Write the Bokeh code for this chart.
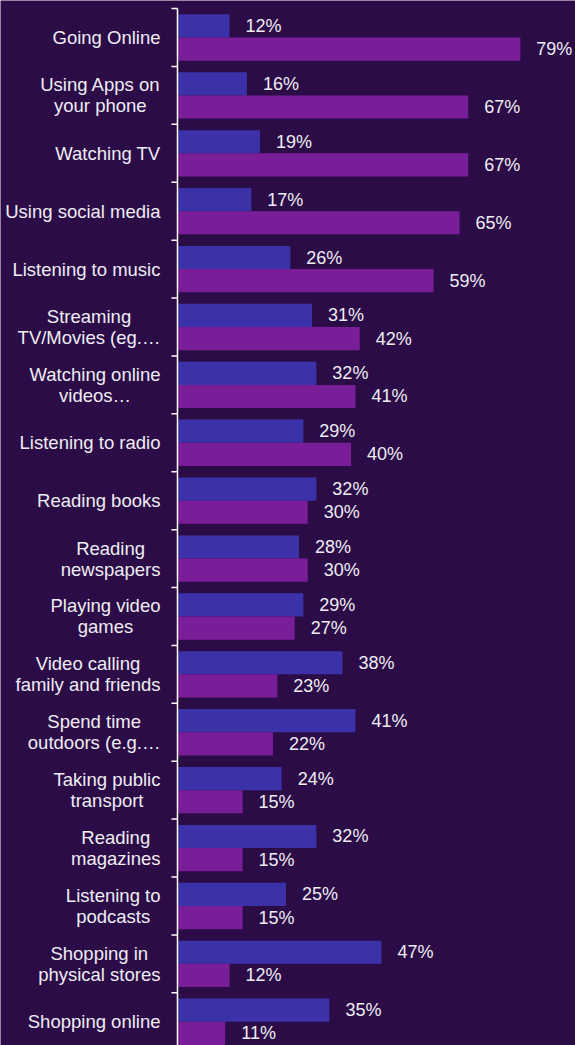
import math
from bokeh.plotting import figure
from bokeh.models import ColumnDataSource, Range1d
from bokeh.transform import dodge
from bokeh.core.properties import value
from bokeh.embed import file_html
from bokeh.resources import INLINE

categories = ["Going Online", "Using Apps on\nyour phone", "Watching TV", "Using social media",
              "Listening to music", "Streaming\nTV/Movies (eg.…", "Watching online\nvideos…",
              "Listening to radio", "Reading books", "Reading\nnewspapers", "Playing video\ngames",
              "Video calling\nfamily and friends", "Spend time\noutdoors (e.g.…",
              "Taking public\ntransport", "Reading\nmagazines", "Listening to\npodcasts",
              "Shopping in\nphysical stores", "Shopping online"]
series_a = [12, 16, 19, 17, 26, 31, 32, 29, 32, 28, 29, 38, 41, 24, 32, 25, 47, 35]
series_b = [79, 67, 67, 65, 59, 42, 41, 40, 30, 30, 27, 23, 22, 15, 15, 15, 12, 11]

BG = "#2c0c47"
BLUE = "#3b32a9"
PURPLE = "#7a1d98"
TXT = "#eeedf3"
FONT = "Liberation Sans"

n = len(categories)
idx = list(range(n))
src = ColumnDataSource(dict(
    idx=idx, cat=categories, a=series_a, b=series_b,
    alab=[f"{v}%" for v in series_a], blab=[f"{v}%" for v in series_b]))

p = figure(width=575, height=1045, output_backend="svg", toolbar_location=None,
           x_axis_type=None, y_axis_type=None,
           x_range=Range1d(-40.78, 91.71), y_range=Range1d(17.41, -0.639),
           min_border_left=0, min_border_right=0, min_border_top=0, min_border_bottom=0,
           background_fill_color=BG, border_fill_color=BG, outline_line_color=None)
p.xgrid.visible = False
p.ygrid.visible = False

p.hbar(y=dodge("idx", -0.2), left=0, right="a", height=0.4, source=src,
       fill_color=BLUE, line_color=None)
p.hbar(y=dodge("idx", 0.2), left=0, right="b", height=0.4, source=src,
       fill_color=PURPLE, line_color=None)

for col, lab, off in (("a", "alab", -0.2), ("b", "blab", 0.2)):
    p.text(x=col, y=dodge("idx", off), text=lab, source=src, x_offset=16,
           text_baseline="middle", text_align="left", text_color=TXT,
           text_font=value(FONT), text_font_size="18px")

# category axis: line, boundary ticks, centred multi-line labels
bounds = [i - 0.5 for i in range(n + 1)]
p.segment(x0=[0], y0=[bounds[0]], x1=[0], y1=[bounds[-1]], line_color="#ffffff", line_width=1.5)
p.ray(x=[0] * len(bounds), y=bounds, length=6, length_units="screen", angle=math.pi,
      line_color="#ffffff", line_width=1.5)
p.text(x=0, y="idx", text="cat", source=src, x_offset=-17, anchor="center_right",
       text_align="center", text_baseline="middle", text_color=TXT,
       text_font=value(FONT), text_font_size="18.5px", text_line_height=1.0)

open("out.html", "w").write(file_html(p, INLINE))
